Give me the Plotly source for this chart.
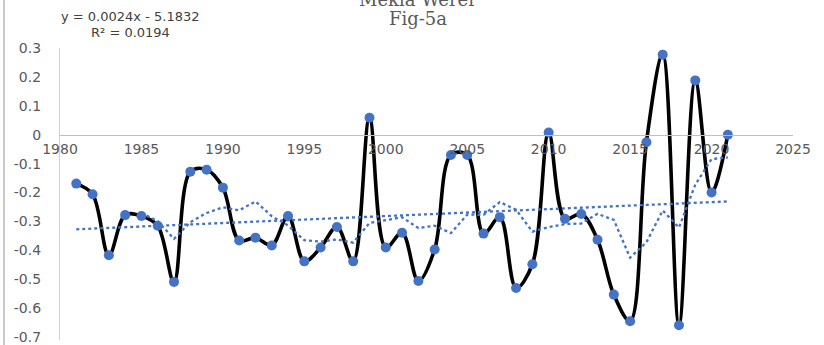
import numpy as np
import pandas as pd
import plotly.graph_objects as go

years = list(range(1981, 2022))
values = [-0.169, -0.206, -0.417, -0.278, -0.281, -0.315, -0.509, -0.128, -0.121, -0.183,
          -0.366, -0.356, -0.383, -0.281, -0.438, -0.390, -0.319, -0.438, 0.059, -0.390,
          -0.339, -0.506, -0.397, -0.070, -0.070, -0.342, -0.285, -0.530, -0.448, 0.008,
          -0.291, -0.274, -0.363, -0.553, -0.645, -0.026, 0.277, -0.659, 0.188, -0.200,
          0.000]
y_tickvals = [0.3, 0.2, 0.1, 0, -0.1, -0.2, -0.3, -0.4, -0.5, -0.6, -0.7]
y_ticktext = ["0.3", "0.2", "0.1", "0", "-0.1", "-0.2", "-0.3", "-0.4", "-0.5", "-0.6", "-0.7"]
x_tickvals = [1980, 1985, 1990, 1995, 2000, 2005, 2010, 2015, 2020, 2025]
title_lines = ["Mekla Werer", "Fig-5a"]
eq_lines = ["y = 0.0024x - 5.1832", "R² = 0.0194"]

yrs = np.array(years, dtype=float)
vals = np.array(values)
slope, intercept = np.polyfit(yrs, vals, 1)
trend = slope * yrs + intercept
ma = pd.Series(vals, index=years).rolling(5).mean().dropna()

blue = "#4472C4"
grey_txt = "#595959"

fig = go.Figure()
fig.add_trace(go.Scatter(x=years, y=values, mode="lines",
                         line=dict(color="black", width=3.6, shape="spline", smoothing=1),
                         showlegend=False, hoverinfo="skip"))
fig.add_trace(go.Scatter(x=list(yrs), y=list(trend), mode="lines",
                         line=dict(color=blue, width=2.3, dash="dot"), showlegend=False))
fig.add_trace(go.Scatter(x=list(ma.index), y=list(ma.values), mode="lines",
                         line=dict(color=blue, width=2.3, dash="dot"), showlegend=False))
fig.add_trace(go.Scatter(x=years, y=values, mode="markers",
                         marker=dict(color=blue, size=10, line=dict(width=0)),
                         showlegend=False))

tickfont = dict(family="DejaVu Sans", size=14, color=grey_txt)
fig.update_layout(
    width=824, height=345,
    margin=dict(l=60, r=31, t=48, b=0, pad=0),
    paper_bgcolor="white", plot_bgcolor="white",
    xaxis=dict(range=[1980, 2025], tickvals=x_tickvals, showgrid=False, zeroline=False,
               showline=True, linecolor="#bfbfbf", linewidth=1.2, ticks="",
               anchor="free", position=0.71 / 1.01, tickfont=tickfont, ticklabelstandoff=1),
    yaxis=dict(range=[-0.71, 0.3], tickvals=y_tickvals, ticktext=y_ticktext, showgrid=False,
               zeroline=False, showline=True, linecolor="#d0d0d0", linewidth=1.2, ticks="",
               tickfont=tickfont, ticklabelstandoff=15, ticklabeloverflow="allow"),
    font=dict(family="DejaVu Sans"),
)

fig.add_annotation(text=title_lines[0], xref="paper", yref="paper", x=0.488, y=1.166,
                   showarrow=False, xanchor="center", yanchor="middle",
                   font=dict(family="DejaVu Serif", size=18, color=grey_txt))
fig.add_annotation(text=title_lines[1], xref="paper", yref="paper", x=0.488, y=1.102,
                   showarrow=False, xanchor="center", yanchor="middle",
                   font=dict(family="DejaVu Serif", size=18, color=grey_txt))
fig.add_annotation(text=eq_lines[0], xref="paper", yref="paper", x=0.0955, y=1.107,
                   showarrow=False, xanchor="center", yanchor="middle",
                   font=dict(family="DejaVu Sans", size=13, color="#404040"))
fig.add_annotation(text=eq_lines[1], xref="paper", yref="paper", x=0.0955, y=1.053,
                   showarrow=False, xanchor="center", yanchor="middle",
                   font=dict(family="DejaVu Sans", size=13, color="#404040"))
fig.add_shape(type="line", xref="paper", yref="paper", x0=-0.0764, x1=-0.0764, y0=-0.05, y1=1.2,
              line=dict(color="#c8c8c8", width=2))

fig.write_html("out.html", config={"displayModeBar": False},
               post_script="document.body.style.margin='0';document.body.style.padding='0';")
